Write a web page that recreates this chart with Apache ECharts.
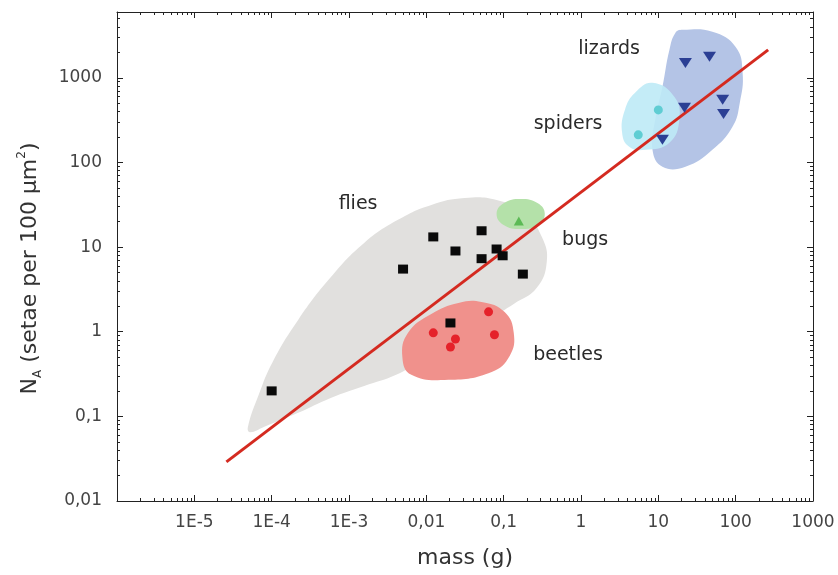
<!DOCTYPE html>
<html><head><meta charset="utf-8">
<script src="https://cdn.jsdelivr.net/npm/echarts@6/dist/echarts.min.js"></script>
<style>html,body{margin:0;padding:0;background:#fff}#c{width:838px;height:575px}</style>
</head><body><div id="c"></div>
<script>
// ---- tick labels ----
const xTickValues = [1e-6, 1e-5, 1e-4, 1e-3, 0.01, 0.1, 1, 10, 100, 1000];
const xTickLabels = ['', '1E-5', '1E-4', '1E-3', '0,01', '0,1', '1', '10', '100', '1000'];
const yTickValues = [0.01, 0.1, 1, 10, 100, 1000];
const yTickLabels = ['0,01', '0,1', '1', '10', '100', '1000'];

// ---- data points (mass g, setae per 100 um2) ----
const fliesMass = [1e-4, 0.005, 0.0123, 0.0238, 0.0518, 0.0518, 0.081, 0.097, 0.177, 0.0205];
const fliesNA   = [0.2, 5.5, 13.2, 9.0, 15.6, 7.3, 9.5, 7.9, 4.8, 1.27];
const beetlesMass = [0.0638, 0.0123, 0.0238, 0.0205, 0.076];
const beetlesNA   = [1.72, 0.97, 0.82, 0.66, 0.92];
const bugsMass = [0.157];
const bugsNA   = [20.4];
const spidersMass = [10, 5.5];
const spidersNA   = [418, 212];
const lizardsMass = [22.4, 45.9, 21.8, 67.9, 69.7, 11.3];
const lizardsNA   = [1500, 1770, 442, 550, 375, 185];
const fitMass = [2.6e-5, 263];
const fitNA   = [0.029, 2140];

// ---- group outlines (data space) ----
const fliesHullMass = [4.9e-5, 6.8e-5, 1.03e-4, 2.2e-4, 5.8e-4, 1.57e-3, 4.3e-3, 0.0116, 0.0312, 0.081, 0.187, 0.312, 0.361, 0.268, 0.135, 0.038, 8.6e-3, 4.07e-3, 1.57e-3, 5.8e-4, 2.2e-4, 7.9e-5, 5.3e-5];
const fliesHullNA   = [0.073, 0.18, 0.44, 1.38, 4.4, 11.2, 21, 31.5, 38, 36, 25, 13.2, 6.7, 3.3, 2.13, 1.05, 0.465, 0.31, 0.229, 0.165, 0.11, 0.075, 0.065];
const beetlesHullMass = [0.0518, 0.103, 0.135, 0.12, 0.070, 0.0193, 6.4e-3, 4.9e-3, 5.8e-3, 0.0116, 0.026];
const beetlesHullNA   = [2.25, 1.71, 0.97, 0.52, 0.335, 0.27, 0.31, 0.50, 0.97, 1.62, 2.19];
const bugsHullMass = [0.081, 0.1, 0.166, 0.277, 0.34, 0.277, 0.166, 0.1];
const bugsHullNA   = [24.7, 33, 37, 33, 24.7, 18.3, 16.4, 18.3];
const spidersHullMass = [8.4, 16.1, 18.7, 13.9, 6.8, 4.2, 3.4, 3.7, 5.0];
const spidersHullNA   = [873, 596, 319, 171, 141, 153, 224, 419, 665];
const lizardsHullMass = [20.5, 50, 100, 123, 113, 91, 50, 22.4, 11.3, 8.4, 9.1, 11.3, 13.9, 16.6];
const lizardsHullNA   = [3690, 3500, 2320, 1150, 506, 264, 141, 89, 89, 141, 319, 783, 2140, 3400];

// ---- group names ----
const groupNames = ['lizards', 'spiders', 'flies', 'bugs', 'beetles'];
const groupLabelMass = [2.31, 0.68, 1.31e-3, 1.13, 0.68];
const groupLabelNA   = [2200, 286, 32.4, 12.2, 0.53];

function pair(xs, ys) { return xs.map((x, i) => [x, ys[i]]); }
function labelFor(v, vals, labs) {
  const lv = Math.log10(v);
  for (let i = 0; i < vals.length; i++) {
    if (Math.abs(Math.log10(vals[i]) - lv) < 1e-6) return labs[i];
  }
  return '';
}
function blob(xs, ys, color, z) {
  return {
    type: 'custom', coordinateSystem: 'cartesian2d', silent: true, z: z,
    encode: { x: 0, y: 1 },
    data: [[xs[0], ys[0]]],
    renderItem: function (params, api) {
      const pts = xs.map((x, i) => api.coord([x, ys[i]]));
      return { type: 'polygon', shape: { points: pts, smooth: 0.45 }, style: { fill: color } };
    }
  };
}
const axisColor = '#222';
const tickFont = { fontSize: 17, color: '#444', fontFamily: 'DejaVu Sans' };
function logAxisBase(min, max) {
  return {
    type: 'log', logBase: 10, min: min, max: max, splitNumber: 10,
    axisLine: { show: true, lineStyle: { color: axisColor, width: 1 } },
    axisTick: { show: true, inside: true, length: 6, lineStyle: { color: axisColor } },
    minorTick: { show: true, splitNumber: 9, length: 3, lineStyle: { color: axisColor } },
    splitLine: { show: false }, minorSplitLine: { show: false }
  };
}
function pts(opts) { return Object.assign({ type: 'scatter', z: 6, itemStyle: { opacity: 1 } }, opts); }

const chart = echarts.init(document.getElementById('c'), null, { renderer: 'canvas' });
chart.setOption({
  animation: false,
  backgroundColor: '#fff',
  grid: { left: 117, right: 25, top: 12, bottom: 74 },
  xAxis: [
    Object.assign(logAxisBase(1e-6, 1000), {
      position: 'bottom',
      axisLabel: Object.assign({ margin: 13, formatter: v => labelFor(v, xTickValues, xTickLabels) }, tickFont),
      name: 'mass (g)', nameLocation: 'middle', nameGap: 46,
      nameTextStyle: { fontSize: 22, color: '#333', fontFamily: 'DejaVu Sans' }
    }),
    Object.assign(logAxisBase(1e-6, 1000), { position: 'top', axisLabel: { show: false } })
  ],
  yAxis: [
    Object.assign(logAxisBase(0.01, 6000), {
      position: 'left',
      axisLabel: Object.assign({ margin: 15, formatter: v => labelFor(v, yTickValues, yTickLabels) }, tickFont),
      name: '{n|N}{s|A}{n| (setae per 100 µm}{p|2}{n|)}', nameLocation: 'middle', nameGap: 73,
      nameTextStyle: {
        padding: [0, 24, 0, 0],
        rich: {
          n: { fontSize: 22, color: '#333', fontFamily: 'DejaVu Sans', lineHeight: 28 },
          s: { fontSize: 12, color: '#333', fontFamily: 'DejaVu Sans', lineHeight: 12, verticalAlign: 'bottom' },
          p: { fontSize: 12, color: '#333', fontFamily: 'DejaVu Sans', lineHeight: 12, verticalAlign: 'top' }
        }
      }
    }),
    Object.assign(logAxisBase(0.01, 6000), { position: 'right', axisLabel: { show: false } })
  ],
  series: [
    blob(fliesHullMass, fliesHullNA, '#e1e0de', 1),
    blob(beetlesHullMass, beetlesHullNA, '#f0918c', 2),
    blob(bugsHullMass, bugsHullNA, '#b4e1a9', 2),
    blob(lizardsHullMass, lizardsHullNA, '#b4c4e6', 2),
    blob(spidersHullMass, spidersHullNA, 'rgba(190,234,246,0.9)', 3),
    {
      type: 'line', data: pair(fitMass, fitNA), symbol: 'none', z: 5,
      lineStyle: { color: '#d42a20', width: 3 }
    },
    pts({ data: pair(fliesMass, fliesNA), symbol: 'rect', symbolSize: [10, 9], itemStyle: { color: '#0a0a0a', opacity: 1 } }),
    pts({ data: pair(beetlesMass, beetlesNA), symbol: 'circle', symbolSize: 9, itemStyle: { color: '#e5222a', opacity: 1 } }),
    pts({ data: pair(bugsMass, bugsNA), symbol: 'triangle', symbolSize: [10, 9], itemStyle: { color: '#5cba55', opacity: 1 } }),
    pts({ data: pair(spidersMass, spidersNA), symbol: 'circle', symbolSize: 9, itemStyle: { color: '#5fcdd3', opacity: 1 } }),
    pts({ data: pair(lizardsMass, lizardsNA), symbol: 'triangle', symbolRotate: 180, symbolSize: [13, 10], itemStyle: { color: '#2b3f94', opacity: 1 } }),
    {
      type: 'scatter', silent: true, z: 7, symbolSize: 1, itemStyle: { color: 'rgba(0,0,0,0)', opacity: 1 },
      data: groupNames.map((n, i) => ({ name: n, value: [groupLabelMass[i], groupLabelNA[i]] })),
      label: { show: true, position: 'inside', formatter: '{b}', fontSize: 19, color: '#2a2a2a', opacity: 1, fontFamily: 'DejaVu Sans' }
    }
  ]
});
</script>
</body></html>
